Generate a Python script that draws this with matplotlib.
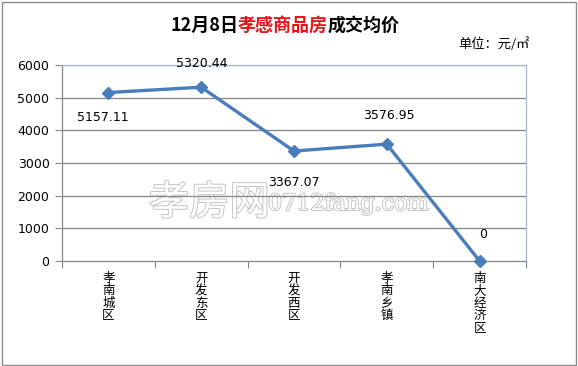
import matplotlib
matplotlib.use("Agg")
import matplotlib.pyplot as plt
import matplotlib.patheffects as pe
from matplotlib.patches import Rectangle

plt.rcParams['font.family'] = ['Noto Sans CJK SC', 'DejaVu Sans']

categories = ["孝南城区", "开发东区", "开发西区", "孝南乡镇", "南大经济区"]
values = [5157.11, 5320.44, 3367.07, 3576.95, 0]
label_texts = ["5157.11", "5320.44", "3367.07", "3576.95", "0"]
label_offsets_px = [(-6, -25), (1, 24), (0, -31), (2, 29), (4, 26)]
yticks = [0, 1000, 2000, 3000, 4000, 5000, 6000]

W, H = 578, 366
fig = plt.figure(figsize=(W / 100, H / 100), dpi=100)
fig.patch.set_facecolor("white")

# outer border
fig.add_artist(Rectangle((1.5 / W, 1.5 / H), (W - 3.5) / W, (H - 3.5) / H,
                         transform=fig.transFigure, fill=False,
                         edgecolor="#8c8c8c", linewidth=1.0))

ax = fig.add_axes([62 / W, 1 - 261 / H, (526 - 62) / W, (261 - 65) / H])
ax.patch.set_alpha(0)
ax.set_zorder(1)
x = list(range(len(categories)))
ax.set_xlim(-0.5, len(categories) - 0.5)
ax.set_ylim(0, 6000)
ax.set_yticks(yticks)
ax.set_yticklabels([str(t) for t in yticks], fontsize=9, family="DejaVu Sans")
for t in yticks[1:]:
    ax.axhline(t, color="#868686", linewidth=0.9, zorder=1)

ax.plot(x, values, color="#4A7EBB", linewidth=2.4, marker="D", markersize=6.5,
        markerfacecolor="#4A7EBB", markeredgecolor="#4A7EBB", zorder=3, clip_on=False)

for xi, v, txt, off in zip(x, values, label_texts, label_offsets_px):
    ax.annotate(txt, (xi, v), xytext=off, textcoords="offset pixels",
                ha="center", va="center", fontsize=9, family="DejaVu Sans", color="black")

for side in ["top", "right"]:
    ax.spines[side].set_color("#a8b8cc")
    ax.spines[side].set_linewidth(0.9)
for side in ["left", "bottom"]:
    ax.spines[side].set_color("#868686")
    ax.spines[side].set_linewidth(0.9)

ax.set_xticks([i - 0.5 for i in range(len(categories) + 1)])
ax.set_xticklabels([])
ax.tick_params(axis="x", length=5, color="#868686", direction="out")
ax.tick_params(axis="y", length=5, color="#868686", direction="out", pad=4)

for xi, cat in zip(x, categories):
    ax.text(xi, -0.055, "\n".join(cat), transform=ax.get_xaxis_transform(),
            ha="center", va="top", fontsize=9, linespacing=0.95)

# title
title_parts = [("12月8日", "black"), ("孝感商品房", "#e8141b"), ("成交均价", "black")]
xpos = 170 / W
renderer = fig.canvas.get_renderer()
for s, c in title_parts:
    t = fig.text(xpos, 1 - 25 / H, s, ha="left", va="center", fontsize=13,
                 fontweight="bold", color=c)
    bb = t.get_window_extent(renderer=renderer)
    xpos += bb.width / W

fig.text(530 / W, 1 - 44 / H, "单位：元/㎡", ha="right", va="center", fontsize=9.5)

# watermark (behind the chart)
wm = [fig.text(149 / W, 1 - 203 / H, "孝房网", ha="left", va="center", fontsize=29,
               color="white"),
      fig.text(268 / W, 1 - 204 / H, "0712fang.com", ha="left", va="center",
               fontsize=16, color="white", family="DejaVu Serif")]
for t in wm:
    t.set_path_effects([pe.Stroke(linewidth=1.4, foreground="#c4c4c4"), pe.Normal()])
    t.set_zorder(0.5)

fig.savefig("out.png", dpi=100, facecolor="white")
